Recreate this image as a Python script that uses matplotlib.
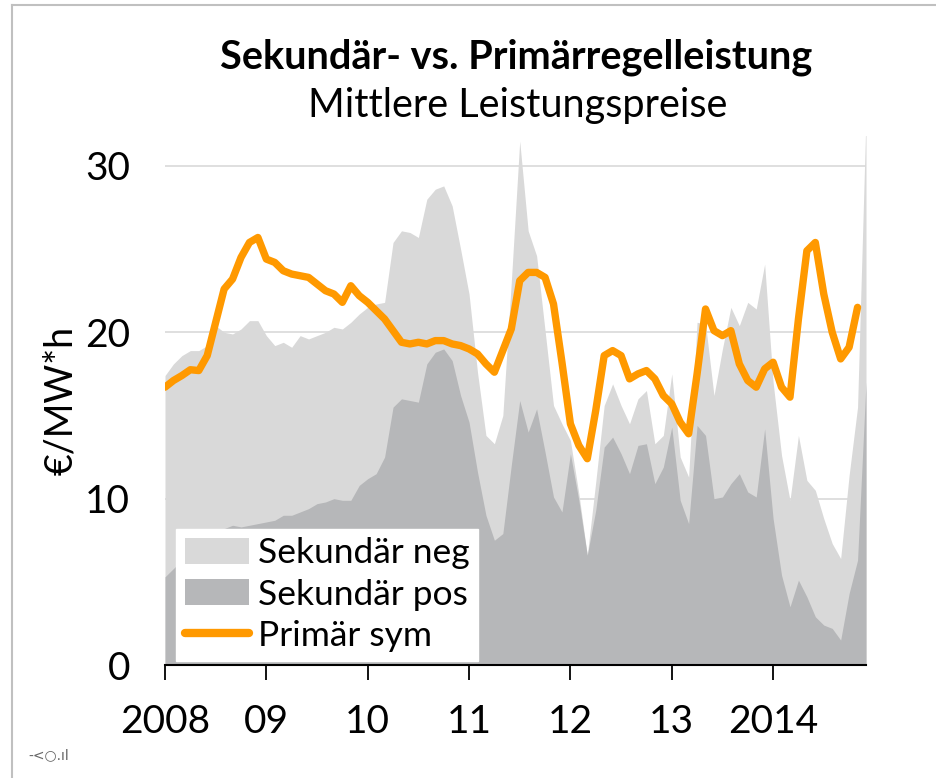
import numpy as np
import matplotlib
matplotlib.use("Agg")
import matplotlib.pyplot as plt
from matplotlib.lines import Line2D
from matplotlib.patches import Patch

plt.rcParams['font.family'] = ['Lato', 'DejaVu Sans']

# Monatswerte Jan 2008 - Dez 2014, EUR/MW*h
sek_neg = [17.4, 18.1, 18.6, 18.9, 18.9, 19.2, 20.4, 20.0, 19.9, 20.2, 20.7, 20.7,
           19.8, 19.2, 19.4, 19.1, 19.8, 19.6, 19.8, 20.0, 20.3, 20.2, 20.6, 21.1,
           21.5, 21.7, 21.8, 25.4, 26.1, 26.0, 25.7, 28.0, 28.6, 28.8, 27.6, 25.0,
           22.3, 17.6, 13.8, 13.3, 15.0, 23.0, 31.5, 26.1, 24.6, 20.1, 15.6, 14.5,
           13.5, 10.3, 6.6, 11.0, 15.6, 16.9, 15.6, 14.5, 16.0, 16.5, 13.3, 13.8,
           17.5, 12.5, 11.3, 20.6, 20.5, 16.2, 19.0, 21.5, 20.4, 21.8, 21.4, 24.1,
           17.0, 12.6, 9.9, 13.8, 11.1, 10.5, 8.8, 7.3, 6.4, 11.4, 15.5, 33.0]
sek_pos = [5.3, 5.8, 6.3, 6.8, 7.3, 7.6, 7.9, 8.2, 8.4, 8.3, 8.4, 8.5,
           8.6, 8.7, 9.0, 9.0, 9.2, 9.4, 9.7, 9.8, 10.0, 9.9, 9.9, 10.8,
           11.2, 11.5, 12.5, 15.5, 16.0, 15.9, 15.8, 18.1, 18.8, 19.0, 18.3, 16.2,
           14.6, 11.6, 9.0, 7.5, 7.9, 12.0, 15.9, 14.0, 15.4, 12.8, 10.1, 9.2,
           12.7, 9.9, 6.6, 9.3, 13.1, 13.7, 12.7, 11.5, 13.2, 13.3, 10.9, 11.9,
           14.3, 9.9, 8.5, 14.4, 13.8, 10.0, 10.1, 10.9, 11.5, 10.4, 10.1, 14.2,
           8.8, 5.4, 3.5, 5.1, 4.1, 2.9, 2.4, 2.2, 1.5, 4.3, 6.3, 17.0]
prim_sym = [16.7, 17.1, 17.4, 17.75, 17.7, 18.6, 20.6, 22.6, 23.2, 24.5, 25.4, 25.7,
            24.4, 24.2, 23.7, 23.5, 23.4, 23.3, 22.9, 22.5, 22.3, 21.8, 22.8, 22.2,
            21.8, 21.3, 20.8, 20.1, 19.4, 19.3, 19.4, 19.3, 19.5, 19.5, 19.3, 19.2,
            19.0, 18.7, 18.1, 17.6, 18.9, 20.2, 23.1, 23.6, 23.6, 23.3, 21.7, 18.2,
            14.5, 13.2, 12.4, 15.3, 18.6, 18.9, 18.6, 17.2, 17.5, 17.7, 17.2, 16.2,
            15.7, 14.6, 13.9, 17.5, 21.4, 20.1, 19.8, 20.1, 18.1, 17.1, 16.7, 17.8,
            18.2, 16.7, 16.1, 20.8, 24.9, 25.4, 22.3, 20.0, 18.4, 19.1, 21.5, np.nan]
year_labels = ["2008", "09", "10", "11", "12", "13", "2014"]

months = np.arange(len(sek_neg))

fig = plt.figure(figsize=(9.37, 7.78), dpi=100)
ax = fig.add_axes([165 / 937, 1 - 665 / 778, 701 / 937, 529 / 778])

c_neg = '#d9d9d9'
c_pos = '#b6b7b9'
c_prim = '#ff9900'

ax.fill_between(months, 0, sek_neg, color=c_neg, linewidth=0, zorder=2)
ax.fill_between(months, 0, sek_pos, color=c_pos, linewidth=0, zorder=3)
ax.plot(months, prim_sym, color=c_prim, linewidth=5.3, solid_capstyle='round',
        solid_joinstyle='round', zorder=4)

ax.set_xlim(0, 83)
ax.set_ylim(0, 31.8)
ax.set_yticks([0, 10, 20, 30])
ax.yaxis.grid(True, color='#d9d9d9', linewidth=1.2, zorder=1)
ax.set_axisbelow(True)
ax.set_xticks(np.arange(0, 84, 12))
ax.set_xticklabels(year_labels)
ax.tick_params(axis='x', length=11, width=1.3, direction='out', pad=17, labelsize=28)
ax.tick_params(axis='y', length=0, pad=25, labelsize=28)
for s in ['top', 'right', 'left']:
    ax.spines[s].set_visible(False)
ax.spines['bottom'].set_linewidth(1.5)
ax.spines['bottom'].set_zorder(5)
ax.set_ylabel('€/MW*h', fontsize=27, labelpad=4)

handles = [Patch(facecolor=c_neg, edgecolor='none'),
           Patch(facecolor=c_pos, edgecolor='none'),
           Line2D([0], [0], color=c_prim, linewidth=6, solid_capstyle='round')]
leg = ax.legend(handles, ['Sekundär neg', 'Sekundär pos', 'Primär sym'],
                loc='lower left', bbox_to_anchor=(0.016, 0.008), fontsize=25.5,
                frameon=True, fancybox=False, framealpha=1, edgecolor='white',
                handlelength=1.8, handleheight=0.75, handletextpad=0.25,
                labelspacing=0.26, borderpad=0.25, borderaxespad=0)
leg.set_zorder(6)

fig.text(0.551, 1 - 57 / 778, 'Sekundär- vs. Primärregelleistung', ha='center',
         va='center', fontsize=28.5, fontweight='bold')
fig.text(0.552, 1 - 105 / 778, 'Mittlere Leistungspreise', ha='center',
         va='center', fontsize=28.5)

# Rahmen oben und links
fig.add_artist(Line2D([12 / 937, 1], [1 - 5 / 778, 1 - 5 / 778], color='#c0c0c0', linewidth=1.5))
fig.add_artist(Line2D([12 / 937, 12 / 937], [0, 1 - 5 / 778], color='#c0c0c0', linewidth=1.5))
fig.text(28 / 937, 1 - 755 / 778, '-<○.ıl', fontsize=10, color='#666666',
         va='center', family=['DejaVu Sans'])

plt.savefig('out.png', dpi=100)
